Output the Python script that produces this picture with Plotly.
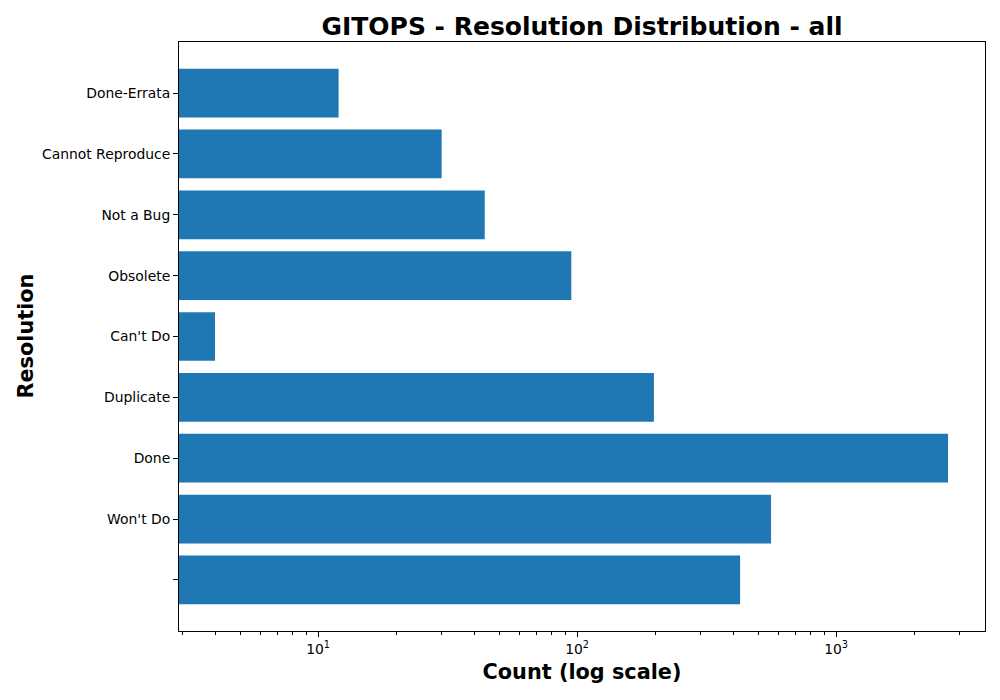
import plotly.graph_objects as go

# Resolution counts, bottom to top as drawn
resolutions = ["", "Won't Do", "Done", "Duplicate", "Can't Do",
               "Obsolete", "Not a Bug", "Cannot Reproduce", "Done-Errata"]
counts = [426, 561, 2706, 198, 4, 95, 44, 30, 12]

major_ticks = [10, 100, 1000]
major_text = ["10<sup>1</sup>", "10<sup>2</sup>", "10<sup>3</sup>"]
minor_ticks = [m * 10 ** e for e in range(0, 4) for m in range(2, 10)]

positions = list(range(len(resolutions)))

fig = go.Figure()
fig.add_trace(go.Bar(
    x=counts,
    y=positions,
    orientation="h",
    width=0.8,
    marker=dict(color="#1f77b4", line=dict(width=0)),
    hovertext=resolutions,
))

axis_font = dict(family="DejaVu Sans", size=13.9, color="black")
label_font = dict(family="DejaVu Sans", size=20.8, color="black")

fig.update_layout(
    width=1000,
    height=700,
    margin=dict(l=179, r=15, t=42, b=69),
    plot_bgcolor="white",
    paper_bgcolor="white",
    showlegend=False,
    bargap=0.2,
    title=dict(
        text="<b>GITOPS - Resolution Distribution - all</b>",
        x=0.582, xanchor="center",
        y=0.963, yanchor="middle",
        font=dict(family="DejaVu Sans", size=25, color="black"),
    ),
    xaxis=dict(
        type="log",
        range=[0.463, 3.575],
        automargin=False,
        tickvals=major_ticks,
        ticktext=major_text,
        ticks="outside",
        ticklen=5,
        tickwidth=1,
        tickcolor="black",
        minor=dict(tickvals=minor_ticks, ticks="outside", ticklen=3,
                   tickwidth=0.8, tickcolor="black"),
        showgrid=False,
        zeroline=False,
        showline=True,
        linecolor="black",
        linewidth=1,
        mirror=True,
        tickfont=axis_font,
        title=dict(text="<b>Count (log scale)</b>", standoff=8, font=label_font),
    ),
    yaxis=dict(
        range=[-0.84, 8.84],
        automargin=False,
        tickvals=positions,
        ticktext=resolutions,
        ticks="outside",
        ticklen=5,
        tickwidth=1,
        tickcolor="black",
        showgrid=False,
        zeroline=False,
        showline=True,
        linecolor="black",
        linewidth=1,
        mirror=True,
        tickfont=axis_font,
    ),
)

# y axis title placed by hand, like matplotlib's ylabel
fig.add_annotation(
    text="<b>Resolution</b>",
    xref="paper", yref="paper",
    x=-(179 - 25) / 806, y=0.5,
    xanchor="center", yanchor="middle",
    textangle=-90,
    showarrow=False,
    font=label_font,
)

fig.write_html(
    "out.html",
    config={"displayModeBar": False},
    post_script="document.body.style.margin='0';",
)
